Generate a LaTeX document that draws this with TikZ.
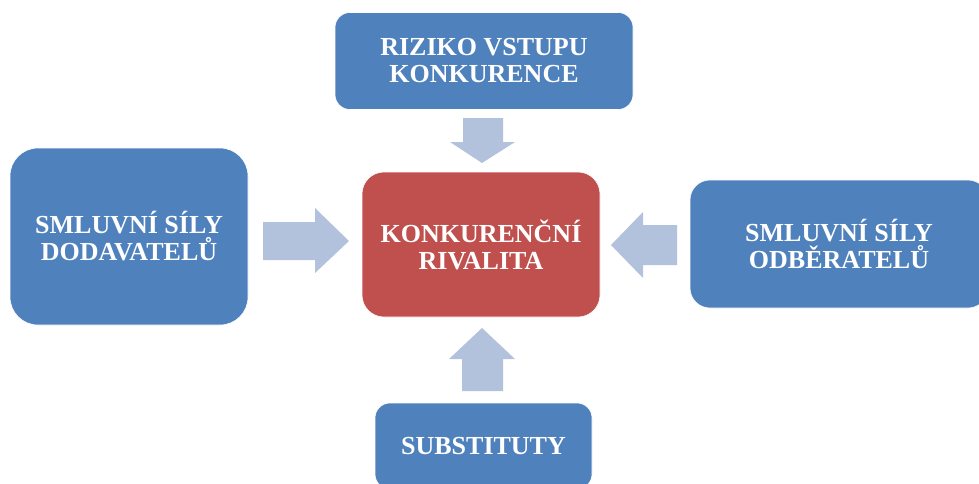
\documentclass[tikz,border=0pt]{standalone}
\usepackage{fontspec}
\setmainfont{Liberation Serif}
\definecolor{boxblue}{HTML}{4F81BD}
\definecolor{boxred}{HTML}{C0504D}
\definecolor{arrowblue}{HTML}{B2C1DC}
\begin{document}
\begin{tikzpicture}[x=1pt,y=-1pt,
  box/.style={fill=boxblue, draw=white, line width=0.6pt, text=white, align=center,
    font=\fontsize{26}{27}\selectfont\bfseries, inner sep=0pt},
  blockarrow/.style={fill=arrowblue, draw=none}]
\useasboundingbox (0,0) rectangle (979,483);
\clip (0,0) rectangle (979,483);
\node[box, minimum width=298pt, minimum height=97pt, rounded corners=15pt] (top) at (484,61) {RIZIKO VSTUPU\\KONKURENCE};
\node[box, minimum width=238pt, minimum height=177pt, rounded corners=28pt] (left) at (129,236.5) {SMLUVNÍ SÍLY\\DODAVATELŮ};
\node[box, fill=boxred, minimum width=238pt, minimum height=145pt, rounded corners=22pt] (center) at (481,244.5) {KONKURENČNÍ\\RIVALITA};
\node[box, minimum width=298pt, minimum height=128pt, rounded corners=20pt] (right) at (839,244) {SMLUVNÍ SÍLY\\ODBĚRATELŮ};
\node[box, minimum width=217pt, minimum height=86pt, rounded corners=15pt] (bottom) at (483.5,446) {SUBSTITUTY};
% block arrows
\fill[blockarrow] (463,118) -- (503,118) -- (503,142) -- (515,142) -- (482,163) -- (450,142) -- (463,142) -- cycle;
\fill[blockarrow] (263,222) -- (315,222) -- (315,208) -- (349,241) -- (315,273) -- (315,260) -- (263,260) -- cycle;
\fill[blockarrow] (677,225) -- (643,225) -- (643,212) -- (611,245) -- (643,278) -- (643,265) -- (677,265) -- cycle;
\fill[blockarrow] (462,391) -- (462,359) -- (449,359) -- (482,328) -- (515,359) -- (503,359) -- (503,391) -- cycle;
\end{tikzpicture}
\end{document}
